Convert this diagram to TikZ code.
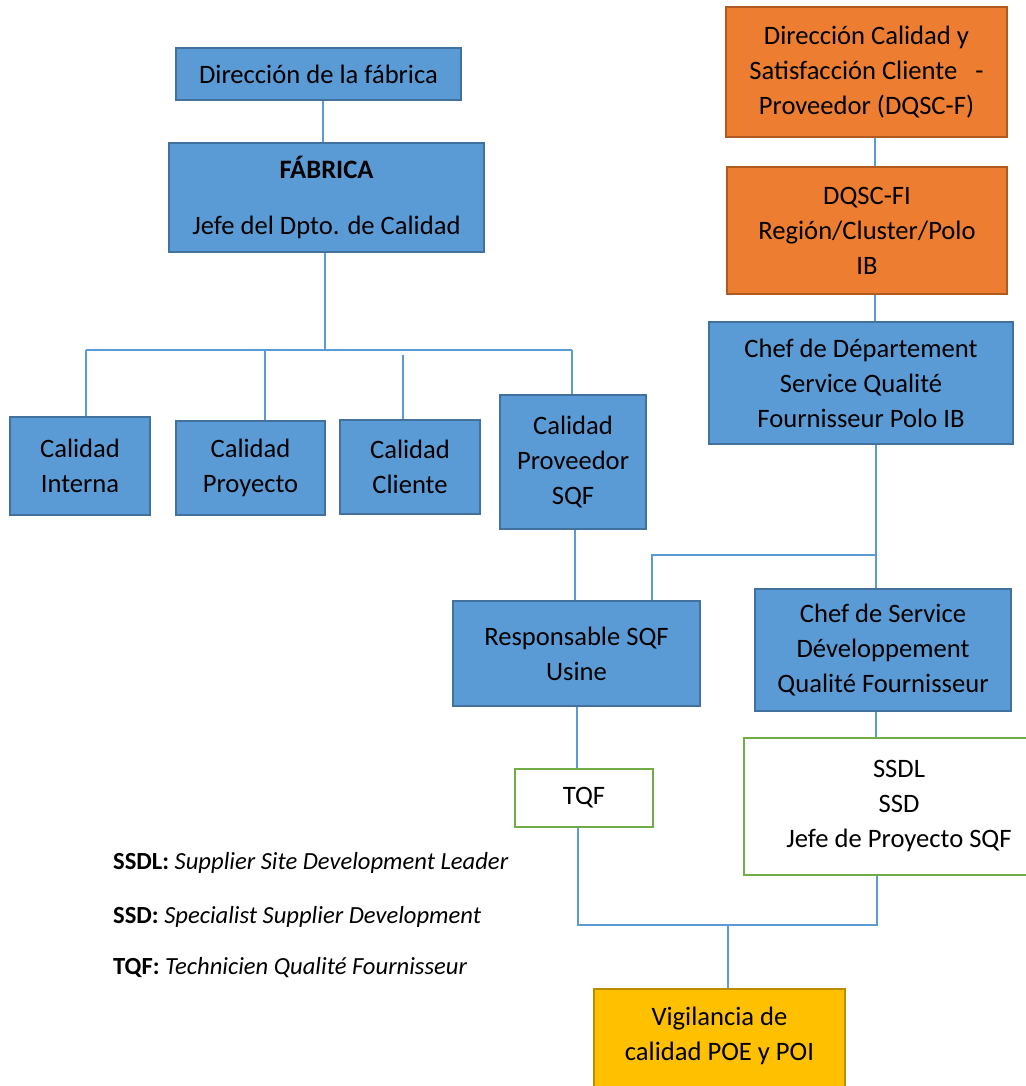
\documentclass[tikz,border=0pt]{standalone}
\usepackage{fontspec}
\setmainfont{Carlito}
\usetikzlibrary{calc}
\definecolor{boxblue}{HTML}{5B9BD5}
\definecolor{edgeblue}{HTML}{41719C}
\definecolor{boxorange}{HTML}{ED7D31}
\definecolor{edgeorange}{HTML}{AE5A21}
\definecolor{boxgold}{HTML}{FFC000}
\definecolor{edgegold}{HTML}{BC8C00}
\definecolor{edgegreen}{HTML}{70AD47}
\definecolor{linkblue}{HTML}{5B9BD5}
\tikzset{
  unit/.style={rectangle, inner sep=0pt, align=center, line width=2.2pt,
    font=\fontsize{26.6}{35}\selectfont},
  bluebox/.style={unit, fill=boxblue, draw=edgeblue},
  orangebox/.style={unit, fill=boxorange, draw=edgeorange},
  goldbox/.style={unit, fill=boxgold, draw=edgegold},
  greenbox/.style={unit, fill=white, draw=edgegreen},
  link/.style={draw=linkblue, line width=1.3pt},
  legend/.style={anchor=west, inner sep=0pt, font=\fontsize{24.6}{28}\selectfont}
}
\begin{document}
\begin{tikzpicture}[x=1pt,y=-1pt]
\useasboundingbox (0,0) rectangle (1025,1086);

% left branch: factory quality department
\node[bluebox, minimum width=285pt, minimum height=52pt] (dir) at (318.5,74) {Dirección de la fábrica};
\node[bluebox, minimum width=315pt, minimum height=109pt] (fab) at (326.5,197.5)
  {\textbf{FÁBRICA}\\[21pt]Jefe del Dpto. de Calidad};
\node[bluebox, minimum width=140pt, minimum height=98pt] (ci) at (80,466) {Calidad\\Interna};
\node[bluebox, minimum width=149pt, minimum height=94pt] (cp) at (250.5,468) {Calidad\\Proyecto};
\node[bluebox, minimum width=140pt, minimum height=94pt] (cc) at (410,467) {Calidad\\Cliente};
\node[bluebox, minimum width=146pt, minimum height=134pt] (cs) at (573,462) {Calidad\\Proveedor\\SQF};

% right branch: supplier quality direction
\node[orangebox, minimum width=281pt, minimum height=130pt] (o1) at (866.5,72)
  {Dirección Calidad y\\Satisfacción Cliente~~~-\\Proveedor (DQSC-F)};
\node[orangebox, minimum width=280pt, minimum height=127pt] (o2) at (867,230.5)
  {DQSC-FI\\Región/Cluster/Polo\\IB};
\node[bluebox, minimum width=304pt, minimum height=122pt] (cd) at (861,383)
  {Chef de Département\\Service Qualité\\Fournisseur Polo IB};
\node[bluebox, minimum width=247pt, minimum height=105pt] (rs) at (576.5,653.5) {Responsable SQF\\Usine};
\node[bluebox, minimum width=256pt, minimum height=122pt] (sv) at (883,650)
  {Chef de Service\\Développement\\Qualité Fournisseur};
\node[greenbox, minimum width=138pt, minimum height=58pt] (tqf) at (584,798) {TQF};
\node[greenbox, minimum width=310pt, minimum height=137pt] (ssdl) at (899,806.5)
  {SSDL\\SSD\\Jefe de Proyecto SQF};
\node[goldbox, minimum width=251pt, minimum height=110pt, anchor=north] (vig) at (719.5,988) {};
\node[unit, draw=none] (vigtext) at (719.5,1036) {Vigilancia de\\calidad POE y POI};

% abbreviations
\node[legend] (l1) at (113,863) {\textbf{SSDL:} \textit{Supplier Site Development Leader}};
\node[legend] (l2) at (113,917) {\textbf{SSD:} \textit{Specialist Supplier Development}};
\node[legend] (l3) at (113,968) {\textbf{TQF:} \textit{Technicien Qualité Fournisseur}};

% junction points
\coordinate (bus) at (325,350);
\coordinate (bl) at (86,350);
\coordinate (br) at (572,350);
\coordinate (bp) at (265,350);
\coordinate (bc) at (403,355);
\coordinate (j1) at (876,555);
\coordinate (j2) at (652,555);
\coordinate (j3) at (578,925);
\coordinate (j4) at (877,925);
\coordinate (j5) at (728,925);

% connectors
\draw[link] (dir.south -| 323,0) -- (fab.north -| 323,0);
\draw[link] (fab.south -| bus) -- (bus);
\draw[link] (bl) -- (br);
\draw[link] (bl) -- (ci.north -| bl);
\draw[link] (bp) -- (cp.north -| bp);
\draw[link] (bc) -- (cc.north -| bc);
\draw[link] (br) -- (cs.north -| br);

\draw[link] (o1.south -| 875,0) -- (o2.north -| 875,0);
\draw[link] (o2.south -| 875,0) -- (cd.north -| 875,0);
\draw[link] (cd.south -| j1) -- (sv.north -| j1);
\draw[link] (j1) -- (j2) -- (rs.north -| j2);
\draw[link] (cs.south -| 575,0) -- (rs.north -| 575,0);
\draw[link] (rs.south -| 577,0) -- (tqf.north -| 577,0);
\draw[link] (sv.south -| j1) -- (ssdl.north -| j1);
\draw[link] (tqf.south -| j3) -- (j3) -- (j4) -- (ssdl.south -| j4);
\draw[link] (j5) -- (vig.north -| j5);
\end{tikzpicture}
\end{document}
